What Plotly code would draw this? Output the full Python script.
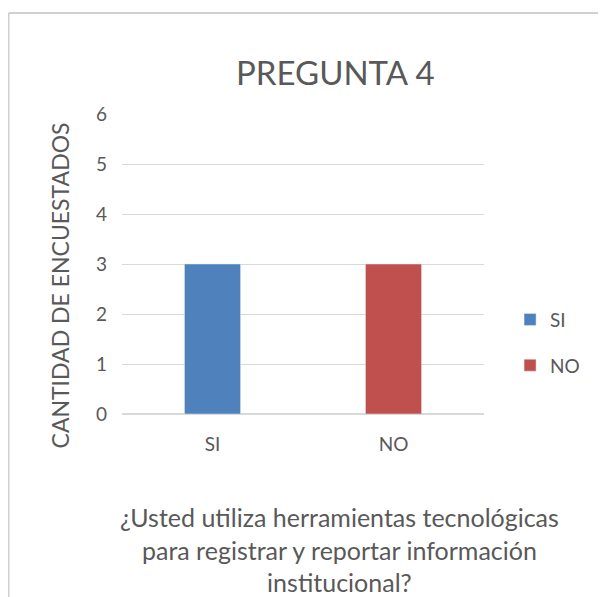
import plotly.graph_objects as go

categories = ["SI", "NO"]
respondents = [3, 3]
bar_colors = ["#4F81BD", "#C0504D"]
y_ticks = [0, 1, 2, 3, 4, 5, 6]

chart_title = "PREGUNTA 4"
y_title = "CANTIDAD DE ENCUESTADOS"
x_title = "¿Usted utiliza herramientas tecnológicas<br>para registrar y reportar información<br>institucional?"

FONT = "Lato, Open Sans, sans-serif"
TEXT = "#595959"
GRID = "#D9D9D9"

fig = go.Figure()
for cat, val, col in zip(categories, respondents, bar_colors):
    fig.add_trace(go.Bar(
        x=[cat], y=[val], name=cat, marker_color=col,
        width=0.31, legendgroup=cat
    ))

# the page body adds an 8px offset, so the figure is 8px smaller each way
fig.update_layout(
    width=598, height=589,
    margin=dict(l=114, r=122, t=106, b=183),
    paper_bgcolor="white", plot_bgcolor="white",
    barmode="overlay",
    font=dict(family=FONT, color=TEXT, size=18),
    showlegend=True,
    legend=dict(
        x=1.072, y=0.378, xanchor="left", yanchor="top",
        font=dict(size=19, color=TEXT),
        tracegroupgap=18, itemwidth=30,
    ),
    xaxis=dict(
        showgrid=False, showline=False, zeroline=False,
        tickfont=dict(size=19, color=TEXT), ticks="",
        ticklabelstandoff=17,
    ),
    yaxis=dict(
        range=[0, 6], tickvals=y_ticks, showgrid=True, gridcolor=GRID,
        gridwidth=1, zeroline=True, zerolinecolor=GRID, showline=False,
        tickfont=dict(size=19, color=TEXT), ticklabelstandoff=14,
    ),
)

fig.add_annotation(
    text=chart_title, xref="paper", yref="paper", x=0.59, y=1.14,
    xanchor="center", yanchor="middle", showarrow=False,
    font=dict(size=33, color=TEXT, family=FONT),
)
fig.add_annotation(
    text=y_title, xref="paper", yref="paper", x=-0.17, y=0.43,
    xanchor="center", yanchor="middle", textangle=-90, showarrow=False,
    font=dict(size=23, color=TEXT, family=FONT),
)
fig.add_annotation(
    text=x_title, xref="paper", yref="paper", x=0.602, y=-0.45,
    xanchor="center", yanchor="middle", showarrow=False, align="center",
    font=dict(size=25, color=TEXT, family=FONT),
)

# frame lines of the cropped chart area
fig.add_shape(type="line", xref="paper", yref="paper",
              x0=-0.3135, x1=-0.3135, y0=1.3367, y1=-0.62,
              line=dict(color="#D0D0D0", width=2))
fig.add_shape(type="line", xref="paper", yref="paper",
              x0=-0.3135, x1=1.34, y0=1.3367, y1=1.3367,
              line=dict(color="#D0D0D0", width=2))

fig.write_html("out.html")
